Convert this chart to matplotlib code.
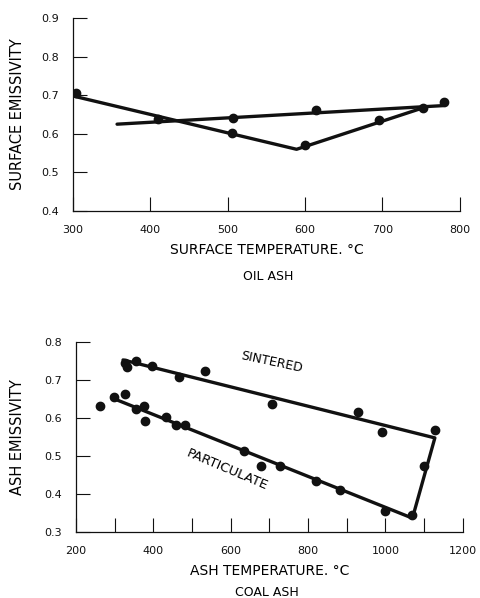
import matplotlib
matplotlib.use("Agg")
import matplotlib.pyplot as plt

plt.rcParams['font.family'] = ['DejaVu Sans']

INK = "#111111"

# --- oil ash (top panel) ---
oil_pts_x = [304, 410, 507, 505, 600, 614, 696, 752, 779]
oil_pts_y = [0.705, 0.638, 0.640, 0.602, 0.570, 0.662, 0.635, 0.668, 0.683]
oil_v_x = [300, 589, 752]
oil_v_y = [0.698, 0.560, 0.667]
oil_flat_x = [357, 778]
oil_flat_y = [0.625, 0.673]
oil_xticks = [300, 400, 500, 600, 700, 800]
oil_yticks = [0.4, 0.5, 0.6, 0.7, 0.8, 0.9]

# --- coal ash (bottom panel) ---
coal_pts_x = [262, 298, 328, 331, 327, 355, 355, 376, 378, 397, 432, 460, 467,
              482, 533, 634, 678, 708, 727, 822, 882, 929, 991, 1000, 1069,
              1099, 1129]
coal_pts_y = [0.632, 0.656, 0.663, 0.735, 0.745, 0.751, 0.624, 0.632, 0.593,
              0.737, 0.603, 0.582, 0.707, 0.582, 0.724, 0.514, 0.474, 0.637,
              0.475, 0.434, 0.412, 0.616, 0.564, 0.355, 0.345, 0.475, 0.570]
coal_line_x = [322, 1128, 1070, 296]
coal_line_y = [0.753, 0.548, 0.337, 0.652]
coal_xticks = [200, 300, 400, 500, 600, 700, 800, 900, 1000, 1100, 1200]
coal_xlabels = ["200", "", "400", "", "600", "", "800", "", "1000", "", "1200"]
coal_yticks = [0.3, 0.4, 0.5, 0.6, 0.7, 0.8]


def style_axes(ax):
    for side in ("top", "right"):
        ax.spines[side].set_visible(False)
    for side in ("left", "bottom"):
        ax.spines[side].set_linewidth(0.9)
        ax.spines[side].set_color(INK)
    ax.tick_params(direction="in", length=10, width=0.8, colors=INK,
                   labelsize=8, pad=10)


fig = plt.figure(figsize=(4.8, 5.98), dpi=100)

# top panel
ax1 = fig.add_axes([0.152, 0.647, 0.806, 0.323])
ax1.plot(oil_v_x, oil_v_y, color=INK, lw=2.4, solid_capstyle="round")
ax1.plot(oil_flat_x, oil_flat_y, color=INK, lw=2.4, solid_capstyle="round")
ax1.plot(oil_pts_x, oil_pts_y, "o", color=INK, ms=6)
ax1.set_xlim(300, 800)
ax1.set_ylim(0.4, 0.9)
ax1.set_xticks(oil_xticks)
ax1.set_yticks(oil_yticks)
ax1.set_yticklabels([f"{v:.1f}" for v in oil_yticks])
style_axes(ax1)
ax1.set_xlabel("SURFACE TEMPERATURE. \u00b0C", fontsize=10, labelpad=6)
ax1.set_ylabel("SURFACE EMISSIVITY", fontsize=10.5, labelpad=12)
fig.text(0.558, 1 - 277 / 598, "OIL ASH", ha="center", va="center", fontsize=9)

# bottom panel
ax2 = fig.add_axes([0.158, 0.110, 0.806, 0.318])
ax2.plot(coal_line_x, coal_line_y, color=INK, lw=2.4, solid_joinstyle="round",
         solid_capstyle="round")
ax2.plot(coal_pts_x, coal_pts_y, "o", color=INK, ms=6)
ax2.set_xlim(200, 1200)
ax2.set_ylim(0.3, 0.8)
ax2.set_xticks(coal_xticks)
ax2.set_xticklabels(coal_xlabels)
ax2.set_yticks(coal_yticks)
ax2.set_yticklabels([f"{v:.1f}" for v in coal_yticks])
style_axes(ax2)
ax2.set_xlabel("ASH TEMPERATURE. \u00b0C", fontsize=10, labelpad=6)
ax2.set_ylabel("ASH EMISSIVITY", fontsize=10.5, labelpad=14)
ax2.text(706, 0.748, "SINTERED", rotation=-12, ha="center", va="center",
         fontsize=9)
ax2.text(590, 0.463, "PARTICULATE", rotation=-23, ha="center", va="center",
         fontsize=9.5)
fig.text(0.556, 1 - 593 / 598, "COAL ASH", ha="center", va="center", fontsize=9)

fig.savefig("out.png", dpi=100)
